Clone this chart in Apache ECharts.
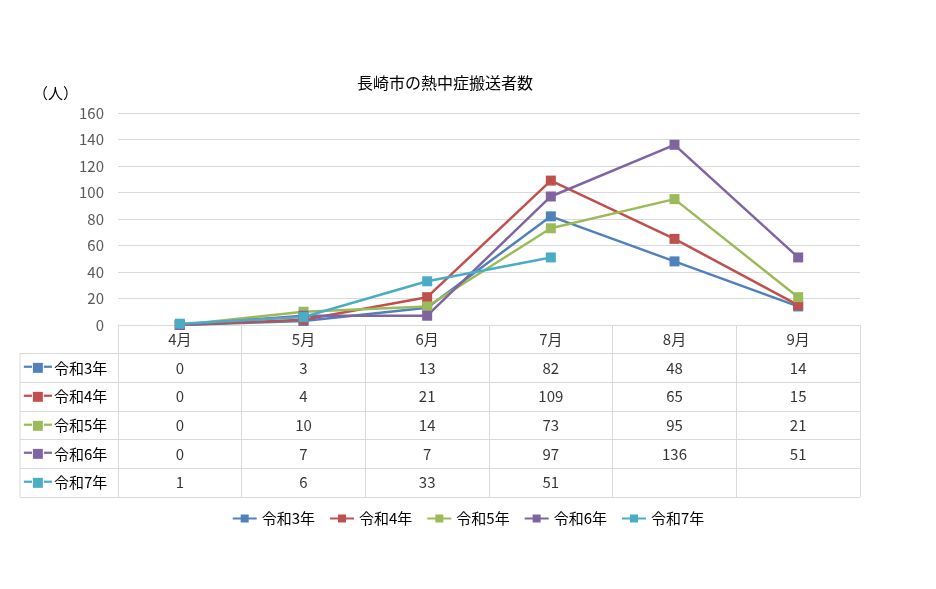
<!DOCTYPE html>
<html><head><meta charset="utf-8">
<script src="https://cdn.jsdelivr.net/npm/echarts@6/dist/echarts.min.js"></script>
<style>html,body{margin:0;background:#fff}#c{width:936px;height:589px}</style>
</head><body><div id="c"></div>
<script>
const months = ['4月','5月','6月','7月','8月','9月'];
const seriesNames = ['令和3年','令和4年','令和5年','令和6年','令和7年'];
const r3 = [0,3,13,82,48,14];
const r4 = [0,4,21,109,65,15];
const r5 = [0,10,14,73,95,21];
const r6 = [0,7,7,97,136,51];
const r7 = [1,6,33,51,null,null];
const yTicks = [0,20,40,60,80,100,120,140,160];
const colors = ['#4f81bd','#c0504d','#9bbb59','#8064a2','#4bacc6'];
const allData = [r3,r4,r5,r6,r7];
const font = "'Noto Sans CJK JP', sans-serif";
const rows = ['hdr'].concat(seriesNames);
const tableCells = [];
allData.forEach((arr,si)=>arr.forEach((v,mi)=>{ if(v!==null) tableCells.push([months[mi], seriesNames[si], v]); }));
const rich = {t:{fontSize:15,color:'#000',fontFamily:font,padding:[0,0,0,2]}};
colors.forEach((c,i)=>{ rich['m'+i]={color:c,fontSize:13,fontFamily:'DejaVu Sans'}; });
const chart = echarts.init(document.getElementById('c'));
chart.setOption({
  animation:false,
  textStyle:{fontFamily:font},
  title:{text:'長崎市の熱中症搬送者数',left:440,top:70,textAlign:'center',textStyle:{fontSize:16,fontWeight:'normal',color:'#000',fontFamily:font}},
  color:colors,
  legend:{data:seriesNames,bottom:58,left:'center',itemWidth:24,itemHeight:10,itemGap:14,textStyle:{fontSize:15,color:'#000',fontFamily:font}},
  grid:[{left:118,right:76,top:113,height:212},{left:118,right:76,top:325,height:172}],
  xAxis:[
    {type:'category',data:months,gridIndex:0,axisLine:{lineStyle:{color:'#d9d9d9'}},axisTick:{show:false},axisLabel:{show:false}},
    {type:'category',data:months,gridIndex:1,position:'top',axisLine:{show:false},axisTick:{show:false},axisLabel:{show:false},splitLine:{show:true,interval:0,lineStyle:{color:'#d9d9d9'}}}
  ],
  yAxis:[
    {type:'value',gridIndex:0,min:yTicks[0],max:yTicks[yTicks.length-1],interval:20,name:'（人）',nameLocation:'end',nameGap:12,nameTextStyle:{fontSize:15,color:'#000',align:'right',padding:[0,40,0,0]},axisLine:{show:false},axisTick:{show:false},axisLabel:{fontSize:15,color:'#595959',margin:14},splitLine:{lineStyle:{color:'#d9d9d9'}}},
    {type:'category',data:rows,inverse:true,gridIndex:1,axisLine:{show:true,lineStyle:{color:'#d9d9d9'}},
     axisTick:{show:true,length:98,interval:(i)=>i!==0,lineStyle:{color:'#d9d9d9'}},
     splitLine:{show:true,interval:0,lineStyle:{color:'#d9d9d9'}},
     axisLabel:{margin:-2,align:'left',padding:[0,0,0,-96],formatter:(v,i)=> i===0?'':`{m${i-1}|━■━}{t|${v}}`,rich:rich}}
  ],
  graphic:[{type:'line',shape:{x1:20,y1:353,x2:20,y2:497},style:{stroke:'#d9d9d9',lineWidth:1}}],
  series:[
    ...seriesNames.map((n,i)=>({name:n,type:'line',xAxisIndex:0,yAxisIndex:0,data:allData[i],symbol:'rect',symbolSize:10,lineStyle:{width:2.5},connectNulls:false})),
    {type:'scatter',xAxisIndex:1,yAxisIndex:1,symbolSize:0,silent:true,data:tableCells,label:{show:true,position:'inside',formatter:p=>String(p.value[2]),fontSize:15,color:'#000',fontFamily:font}},
    {type:'scatter',xAxisIndex:1,yAxisIndex:1,symbolSize:0,silent:true,data:months.map(m=>[m,'hdr',m]),label:{show:true,position:'inside',formatter:p=>p.value[2],fontSize:15,color:'#000',fontFamily:font}}
  ]
});
</script></body></html>
